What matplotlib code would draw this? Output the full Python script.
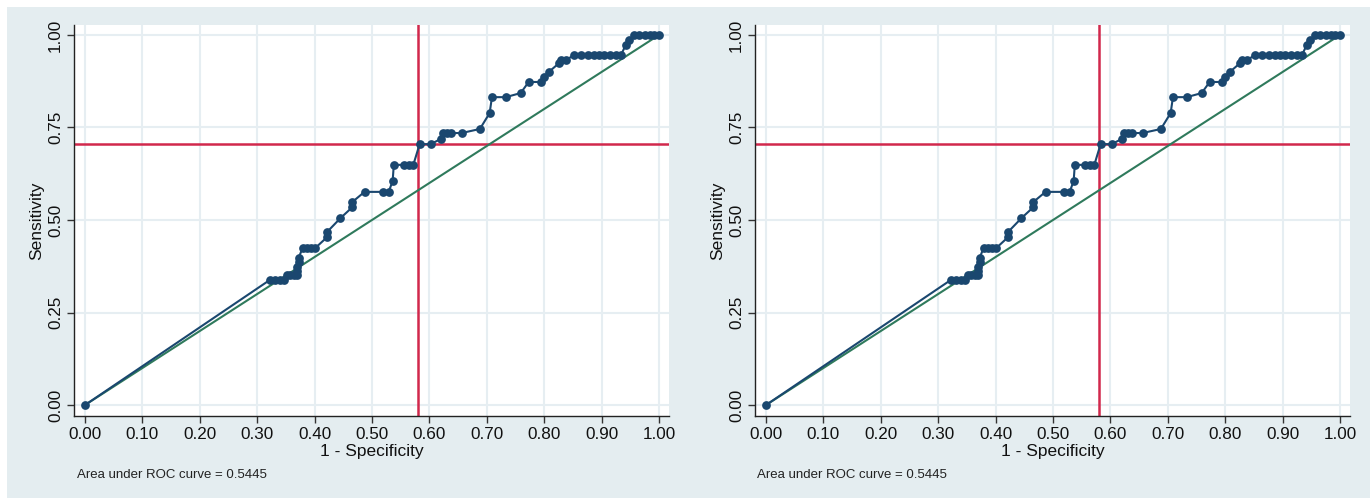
import matplotlib
matplotlib.use("Agg")
import matplotlib.pyplot as plt
from matplotlib.patches import Rectangle

plt.rcParams["font.family"] = ["Liberation Sans", "DejaVu Sans"]

# ROC curve points (1 - specificity, sensitivity)
fpr = [0.000, 0.323, 0.331, 0.339, 0.346, 0.352, 0.358, 0.364, 0.370, 0.370,
       0.370, 0.372, 0.372, 0.379, 0.386, 0.393, 0.401, 0.422, 0.422, 0.445,
       0.466, 0.466, 0.487, 0.520, 0.529, 0.536, 0.538, 0.555, 0.564, 0.572,
       0.583, 0.602, 0.620, 0.624, 0.631, 0.637, 0.656, 0.688, 0.705, 0.709,
       0.733, 0.759, 0.773, 0.794, 0.799, 0.808, 0.826, 0.829, 0.838, 0.852,
       0.864, 0.876, 0.886, 0.896, 0.905, 0.915, 0.925, 0.934, 0.942, 0.948,
       0.957, 0.966, 0.975, 0.984, 0.992, 1.000]
tpr = [0.000, 0.339, 0.339, 0.339, 0.339, 0.351, 0.351, 0.351, 0.351, 0.362,
       0.373, 0.386, 0.397, 0.424, 0.424, 0.424, 0.424, 0.454, 0.468, 0.505,
       0.535, 0.549, 0.576, 0.576, 0.576, 0.605, 0.649, 0.649, 0.649, 0.649,
       0.705, 0.705, 0.719, 0.735, 0.735, 0.735, 0.735, 0.746, 0.789, 0.832,
       0.832, 0.843, 0.873, 0.873, 0.886, 0.900, 0.924, 0.932, 0.932, 0.946,
       0.946, 0.946, 0.946, 0.946, 0.946, 0.946, 0.946, 0.946, 0.973, 0.986,
       1.000, 1.000, 1.000, 1.000, 1.000, 1.000]

cut_x = 0.580
cut_y = 0.705
auc = 0.5445

x_ticks = [0.0, 0.1, 0.2, 0.3, 0.4, 0.5, 0.6, 0.7, 0.8, 0.9, 1.0]
y_ticks = [0.0, 0.25, 0.5, 0.75, 1.0]

navy = "#1a476f"
green = "#2f7a5c"
red = "#d1284c"
panel_bg = "#e4edf0"
grid_col = "#e6eef2"

fig = plt.figure(figsize=(13.7, 4.98), dpi=100)
fig.patch.set_facecolor("white")
fig.patches.append(Rectangle((7 / 1370, 0), 1, 1 - 7 / 498,
                             transform=fig.transFigure, facecolor=panel_bg,
                             edgecolor="none", zorder=-10))

for left, text_x in [(74, 77), (755, 757)]:
    ax = fig.add_axes([left / 1370, 82 / 498, 595 / 1370, 391 / 498])
    ax.set_facecolor("white")
    ax.set_xlim(-0.0192, 1.0175)
    ax.set_ylim(-0.0297, 1.027)

    ax.set_xticks(x_ticks)
    ax.set_xticklabels(["{:.2f}".format(v) for v in x_ticks])
    ax.set_yticks(y_ticks)
    ax.set_yticklabels(["{:.2f}".format(v) for v in y_ticks], rotation=90, va="center")
    ax.grid(True, color=grid_col, linewidth=1.5)
    ax.set_axisbelow(True)

    for s in ["top", "right"]:
        ax.spines[s].set_visible(False)
    for s in ["left", "bottom"]:
        ax.spines[s].set_color("#222222")
        ax.spines[s].set_linewidth(1.0)
    ax.tick_params(direction="out", length=5, width=1, color="#333333",
                   labelsize=12.3, labelcolor="#111111", pad=3)

    ax.axvline(cut_x, color=red, linewidth=1.8, zorder=2)
    ax.axhline(cut_y, color=red, linewidth=1.8, zorder=2)
    ax.plot([0, 1], [0, 1], color=green, linewidth=1.5, zorder=3)
    ax.plot(fpr, tpr, color=navy, linewidth=1.5, marker="o", markersize=6.3,
            markeredgewidth=0, zorder=4)

    ax.set_xlabel("1 - Specificity", fontsize=12.5, color="#111111", va="center")
    ax.xaxis.set_label_coords(0.5, -0.092)
    ax.set_ylabel("Sensitivity", fontsize=12.5, color="#111111", va="center")
    ax.yaxis.set_label_coords(-0.063, 0.5)

    fig.text(text_x / 1370, 1 - 475 / 498,
             "Area under ROC curve = {:.4f}".format(auc),
             fontsize=9.5, color="#222222", va="center", ha="left")

fig.savefig("out.png", dpi=100, facecolor=fig.get_facecolor())
